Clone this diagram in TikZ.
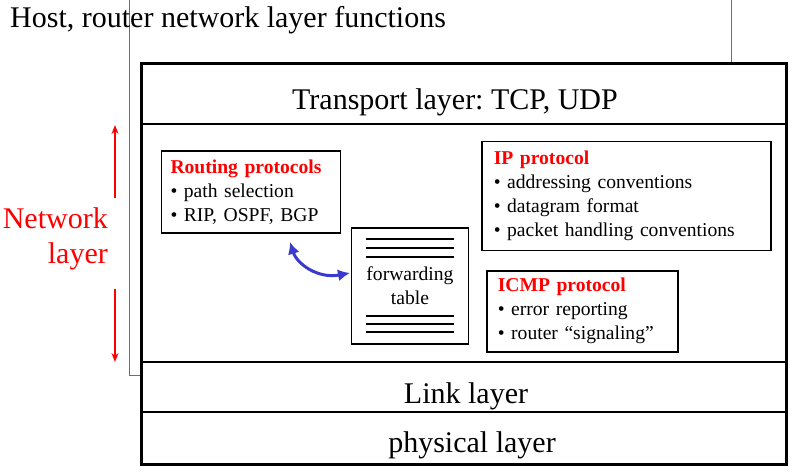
\documentclass[tikz,border=0pt]{standalone}
\usepackage{fontspec}
\setmainfont{Liberation Serif}
\usetikzlibrary{arrows.meta}
\definecolor{netred}{RGB}{255,0,0}
\definecolor{arrblue}{RGB}{58,58,205}
\definecolor{backgray}{RGB}{110,110,110}
\frenchspacing
\begin{document}
\begin{tikzpicture}[x=1pt,y=-1pt,
  big/.style={font=\fontsize{30}{34}\selectfont, inner sep=0pt},
  small/.style={font=\fontsize{19.6}{24}\selectfont},
  protobox/.style={draw, line width=1.6pt, small, align=left, anchor=north west, inner ysep=0pt},
  tline/.style={line width=1.6pt},
  redarrow/.style={draw=netred, line width=2pt, -{Stealth[length=9pt,width=7pt]}},
  bluearrow/.style={draw=arrblue, line width=3pt, {Latex[length=12pt,width=12pt]}-{Latex[length=12pt,width=12pt]}},
]
\useasboundingbox (0,0) rectangle (793,472);
% back frame
\draw[backgray, line width=0.8pt] (140,375) -- (129,375) -- (129,0) (731,0) -- (731,62);
% title
\node (title) [big, anchor=base west] at (10,27) {Host, router network layer functions};
% main stack
\node (main) [draw, line width=3pt, minimum width=645pt, minimum height=401pt, anchor=north west, inner sep=0pt] at (140,62) {};
\draw[line width=2pt] (main.west |- 0,124) -- (main.east |- 0,124);
\draw[line width=2pt] (main.west |- 0,362) -- (main.east |- 0,362);
\draw[line width=2pt] (main.west |- 0,412) -- (main.east |- 0,412);
\node (transport) [big, anchor=base] at (455,109) {Transport layer: TCP, UDP};
\node (link) [big, anchor=base] at (466,403) {Link layer};
\node (phys) [big, anchor=base] at (472,452) {physical layer};
% network layer label
\node (netw) [big, text=netred, anchor=base east] at (108,228) {Network};
\node (netl) [big, text=netred, anchor=base east] at (108,263) {layer};
\coordinate (nu1) at (115,198);
\coordinate (nu2) at (115,125);
\coordinate (nd1) at (115,289);
\coordinate (nd2) at (115,362);
\draw[redarrow] (nu1) -- (nu2);
\draw[redarrow] (nd1) -- (nd2);
% protocol boxes
\node (rout) [protobox, inner xsep=9pt, text width=161pt, minimum height=82pt] at (160.7,150)
  {\textcolor{netred}{\bfseries Routing protocols}\\ \textbullet{} path selection\\ \textbullet{} RIP, OSPF, BGP};
\node (ip) [protobox, inner xsep=12pt, text width=265pt, minimum height=109pt] at (481,140.7)
  {\textcolor{netred}{\bfseries IP protocol}\\ \textbullet{} addressing conventions\\ \textbullet{} datagram format\\ \textbullet{} packet handling conventions};
\node (icmp) [protobox, inner xsep=11pt, text width=169pt, minimum height=81pt] at (486,270)
  {\textcolor{netred}{\bfseries ICMP protocol}\\ \textbullet{} error reporting\\ \textbullet{} router ``signaling''};
\node (fwd) [draw, line width=1.6pt, small, align=center, anchor=north west, minimum width=117pt, minimum height=116pt, inner sep=0pt] at (350.7,227)
  {forwarding\\table};
\foreach \yy in {239,248,257,316,324,332}
  \draw[tline] (366,\yy) -- (454,\yy);
% blue double arrow
\coordinate (rp) at (290,242);
\coordinate (ft) at (350,273);
\draw[bluearrow] (rp) .. controls (297,264) and (318,279) .. (ft);
\end{tikzpicture}
\end{document}
